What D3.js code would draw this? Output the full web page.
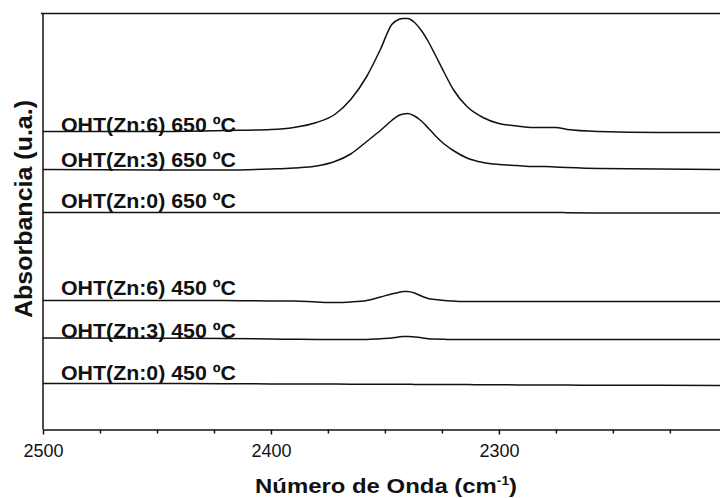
<!DOCTYPE html>
<html lang="es">
<head>
    <meta charset="UTF-8">
    <title>Absorbancia vs Número de Onda</title>
    <script src="https://d3js.org/d3.v7.min.js"></script>
    <style>
        body { margin: 0; background: white; }
        svg { display: block; font-family: "Liberation Sans", Arial, Helvetica, sans-serif; }
        .spectrum { fill: none; stroke: #111; stroke-width: 1.5; }
        .axis path, .axis line { stroke: #111; stroke-width: 1.5; }
        .axis text { font-size: 18px; fill: #111; }
        .label { font-size: 20px; font-weight: bold; fill: #111; }
    </style>
</head>
<body>
<svg width="720" height="498"></svg>
<script>
    // wavenumbers (cm-1) shared by every spectrum
    const wavenumbers = [2500, 2450, 2420, 2400, 2390, 2380, 2372, 2365, 2358, 2352, 2347, 2344, 2342, 2340,
        2337, 2334, 2331, 2328, 2324, 2320, 2314, 2307, 2300, 2292, 2285, 2280, 2275, 2270, 2256, 2230, 2203];

    const sampleNames = ["OHT(Zn:6) 650 ºC", "OHT(Zn:3) 650 ºC", "OHT(Zn:0) 650 ºC",
        "OHT(Zn:6) 450 ºC", "OHT(Zn:3) 450 ºC", "OHT(Zn:0) 450 ºC"];

    // absorbance (u.a., stacked offsets included)
    const zn6at650 = [2.98, 2.98, 2.99, 3.00, 3.02, 3.07, 3.15, 3.30, 3.53, 3.80, 4.05, 4.10, 4.11, 4.11,
        4.07, 3.99, 3.88, 3.75, 3.57, 3.40, 3.23, 3.12, 3.06, 3.035, 3.02, 3.02, 3.02, 3.00, 2.98, 2.97, 2.97];
    const zn3at650 = [2.60, 2.595, 2.595, 2.605, 2.615, 2.635, 2.68, 2.755, 2.88, 2.99, 3.09, 3.14, 3.155, 3.16,
        3.135, 3.085, 3.015, 2.94, 2.855, 2.79, 2.715, 2.67, 2.65, 2.64, 2.63, 2.63, 2.625, 2.62, 2.61, 2.605, 2.60];
    const zn0at650 = [2.17, 2.17, 2.17, 2.17, 2.17, 2.17, 2.17, 2.17, 2.17, 2.17, 2.17, 2.17, 2.17, 2.17,
        2.17, 2.17, 2.17, 2.17, 2.17, 2.17, 2.17, 2.17, 2.17, 2.17, 2.17, 2.17, 2.17, 2.168, 2.165, 2.165, 2.165];
    const zn6at450 = [1.29, 1.29, 1.29, 1.285, 1.285, 1.275, 1.27, 1.275, 1.29, 1.325, 1.355, 1.37, 1.38, 1.38,
        1.365, 1.335, 1.31, 1.30, 1.29, 1.285, 1.28, 1.28, 1.28, 1.28, 1.28, 1.28, 1.28, 1.28, 1.28, 1.28, 1.28];
    const zn3at450 = [0.915, 0.912, 0.91, 0.905, 0.902, 0.90, 0.90, 0.90, 0.90, 0.908, 0.915, 0.925, 0.93, 0.93,
        0.925, 0.918, 0.908, 0.904, 0.902, 0.90, 0.90, 0.90, 0.90, 0.90, 0.90, 0.90, 0.90, 0.90, 0.90, 0.90, 0.90];
    const zn0at450 = [0.46, 0.46, 0.458, 0.456, 0.455, 0.455, 0.454, 0.453, 0.452, 0.452, 0.452, 0.452, 0.452, 0.452,
        0.451, 0.451, 0.45, 0.45, 0.45, 0.45, 0.449, 0.448, 0.447, 0.446, 0.445, 0.445, 0.444, 0.444, 0.443, 0.442, 0.44];

    const seriesValues = [zn6at650, zn3at650, zn0at650, zn6at450, zn3at450, zn0at450];

    const majorTicks = [2500, 2400, 2300];
    const minorTicks = [2475, 2450, 2425, 2375, 2350, 2325, 2275, 2250, 2225];

    const svg = d3.select("svg");
    const plotLeft = 43, plotRight = 720, plotTop = 13.5, plotBottom = 429.5;

    const x = d3.scaleLinear().domain([2500, 2203]).range([plotLeft, plotRight]);
    const y = d3.scaleLinear().domain([0, 4.16]).range([plotBottom, plotTop]);

    // frame: top line and left spine
    svg.append("line")
        .attr("x1", plotLeft - 2).attr("x2", plotRight)
        .attr("y1", plotTop).attr("y2", plotTop)
        .attr("stroke", "#111").attr("stroke-width", 1.5);
    svg.append("line")
        .attr("x1", plotLeft).attr("x2", plotLeft)
        .attr("y1", plotTop).attr("y2", plotBottom)
        .attr("stroke", "#111").attr("stroke-width", 1.5);

    svg.append("g")
        .attr("class", "axis")
        .attr("transform", `translate(0, ${plotBottom})`)
        .call(d3.axisBottom(x).tickValues(minorTicks).tickFormat("").tickSize(4).tickSizeOuter(0));

    const xAxis = svg.append("g")
        .attr("class", "axis")
        .attr("transform", `translate(0, ${plotBottom})`)
        .call(d3.axisBottom(x).tickValues(majorTicks).tickFormat(d3.format("d")).tickSize(5).tickSizeOuter(0));
    xAxis.selectAll("text").attr("y", 0).attr("dy", "27px");
    xAxis.select(".domain").remove();

    const line = d3.line()
        .x(d => x(d[0]))
        .y(d => y(d[1]))
        .curve(d3.curveMonotoneX);

    svg.selectAll("path.spectrum")
        .data(seriesValues)
        .enter().append("path")
        .attr("class", "spectrum")
        .attr("d", vals => line(wavenumbers.map((w, i) => [w, vals[i]])));

    // small upward nudge so the names sit on their curves
    const labelLift = [0, 3, 5, 6, 0, 4];
    svg.selectAll("text.label")
        .data(sampleNames)
        .enter().append("text")
        .attr("class", "label")
        .attr("x", 61)
        .attr("y", (d, i) => y(seriesValues[i][0]) - labelLift[i])
        .attr("textLength", 175)
        .attr("lengthAdjust", "spacingAndGlyphs")
        .text(d => d);

    // axis titles
    const xTitle = svg.append("text")
        .attr("x", 386)
        .attr("y", 493)
        .attr("text-anchor", "middle")
        .attr("textLength", 262)
        .attr("lengthAdjust", "spacingAndGlyphs")
        .style("font-size", "21px")
        .style("font-weight", "bold")
        .style("fill", "#111");
    xTitle.append("tspan").text("Número de Onda (cm");
    xTitle.append("tspan").attr("dy", -8).style("font-size", "12px").text("-1");
    xTitle.append("tspan").attr("dy", 8).text(")");

    svg.append("text")
        .attr("transform", "translate(32, 209) rotate(-90)")
        .attr("text-anchor", "middle")
        .attr("textLength", 218)
        .attr("lengthAdjust", "spacingAndGlyphs")
        .style("font-size", "23px")
        .style("font-weight", "bold")
        .style("fill", "#111")
        .text("Absorbancia (u.a.)");
</script>
</body>
</html>
